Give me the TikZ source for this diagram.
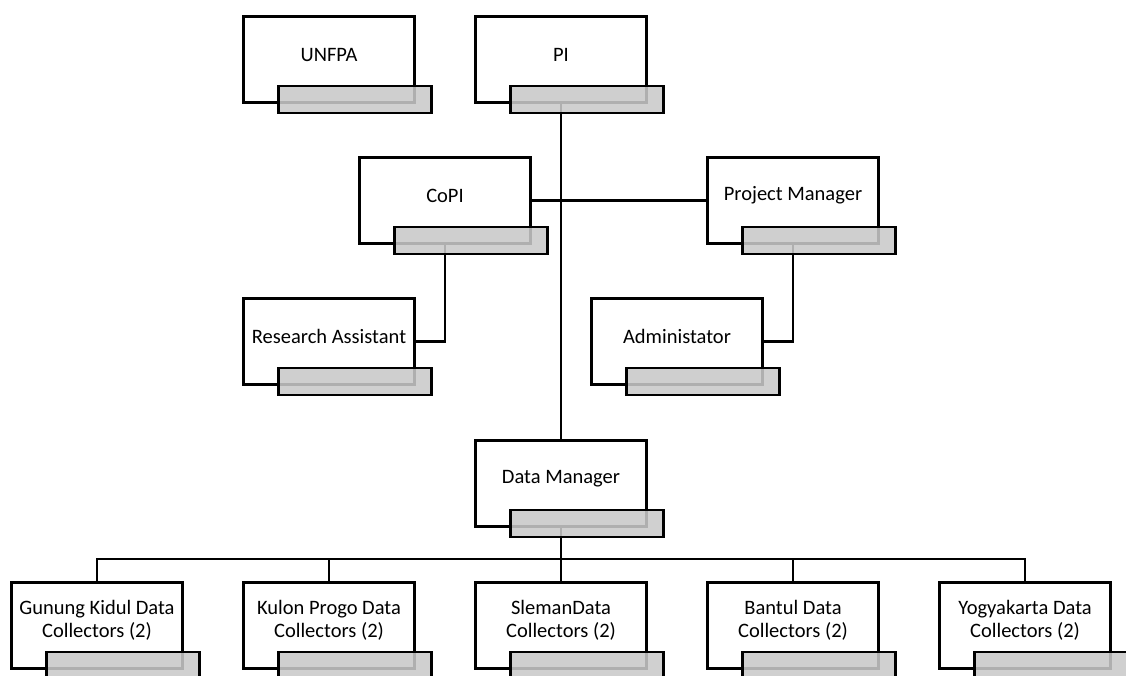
\documentclass[tikz,border=0pt]{standalone}
\usepackage{fontspec}
\setmainfont{Carlito}
\definecolor{barfill}{RGB}{201,201,201}
\tikzset{
  unitbox/.style={draw=black, fill=white, line width=2.6pt, minimum width=171pt, minimum height=86pt, inner sep=0pt},
  unitlabel/.style={align=center, inner sep=0pt, font=\fontsize{20.5pt}{23pt}\selectfont},
  unitbar/.style={draw=black, fill=barfill, fill opacity=0.875, line width=2.6pt, minimum width=153pt, minimum height=27pt, inner sep=0pt, anchor=north west},
  link/.style={line width=2.6pt}
}
% a white unit box: name, left x, top y, caption
\newcommand{\orgunit}[4]{%
  \node[unitbox] (#1) at ({#2+87},{#3+44.5}) {};
  \node[unitlabel] (#1-text) at ({#2+87},{#3+39.5}) {#4};
}
% the shaded bar overlapping the lower right corner of a unit box
\newcommand{\orgbar}[1]{%
  \node[unitbar] (#1-bar) at ([xshift=35pt, yshift=19pt]#1.south west) {};
}
\begin{document}
\begin{tikzpicture}[x=1pt, y=-1pt]
\useasboundingbox (0,0) rectangle (1126,675);

% unit boxes
\orgunit{UNFPA}{242}{15}{UNFPA}
\orgunit{PI}{474}{15}{PI}
\orgunit{CoPI}{358}{156}{CoPI}
\orgunit{PM}{706}{156}{Project Manager}
\orgunit{RA}{242}{297}{Research Assistant}
\orgunit{Admin}{590}{297}{Administator}
\orgunit{DM}{474}{439}{Data Manager}
\orgunit{GK}{10}{581}{Gunung Kidul Data\\Collectors (2)}
\orgunit{KP}{242}{581}{Kulon Progo Data\\Collectors (2)}
\orgunit{SL}{474}{581}{SlemanData\\Collectors (2)}
\orgunit{BT}{706}{581}{Bantul Data\\Collectors (2)}
\orgunit{YK}{938}{581}{Yogyakarta Data\\Collectors (2)}

% reporting lines
\coordinate (bus) at (561,559);
\draw[link] (PI.south) -- (DM.north);
\draw[link] (CoPI.east) -- (PM.west);
\draw[link] (CoPI.south) |- (RA.east);
\draw[link] (PM.south) |- (Admin.east);
\draw[link] (DM.south) -- (bus);
\foreach \c in {GK,KP,SL,BT,YK}{
  \draw[link] (bus) -| (\c.north);
}

% shaded bars on top
\foreach \u in {UNFPA,PI,CoPI,PM,RA,Admin,DM,GK,KP,SL,BT,YK}{
  \orgbar{\u}
}
\end{tikzpicture}
\end{document}
